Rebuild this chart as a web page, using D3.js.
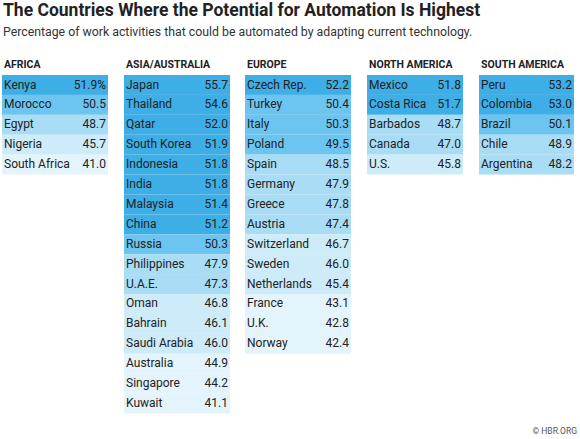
<!DOCTYPE html>
<html><head><meta charset="utf-8">
<script src="https://cdn.jsdelivr.net/npm/d3@7"></script>
<style>body{margin:0;background:#fff;font-family:Roboto,sans-serif}</style>
</head><body><svg id="c" width="580" height="439"></svg>
<script>
var regions = ['AFRICA', 'ASIA/AUSTRALIA', 'EUROPE', 'NORTH AMERICA', 'SOUTH AMERICA']
var africa = [['Kenya', 51.9], ['Morocco', 50.5], ['Egypt', 48.7], ['Nigeria', 45.7], ['South Africa', 41.0]]
var asia = [['Japan', 55.7], ['Thailand', 54.6], ['Qatar', 52.0], ['South Korea', 51.9], ['Indonesia', 51.8],
  ['India', 51.8], ['Malaysia', 51.4], ['China', 51.2], ['Russia', 50.3], ['Philippines', 47.9],
  ['U.A.E.', 47.3], ['Oman', 46.8], ['Bahrain', 46.1], ['Saudi Arabia', 46.0], ['Australia', 44.9],
  ['Singapore', 44.2], ['Kuwait', 41.1]]
var europe = [['Czech Rep.', 52.2], ['Turkey', 50.4], ['Italy', 50.3], ['Poland', 49.5], ['Spain', 48.5],
  ['Germany', 47.9], ['Greece', 47.8], ['Austria', 47.4], ['Switzerland', 46.7], ['Sweden', 46.0],
  ['Netherlands', 45.4], ['France', 43.1], ['U.K.', 42.8], ['Norway', 42.4]]
var northAmerica = [['Mexico', 51.8], ['Costa Rica', 51.7], ['Barbados', 48.7], ['Canada', 47.0], ['U.S.', 45.8]]
var southAmerica = [['Peru', 53.2], ['Colombia', 53.0], ['Brazil', 50.1], ['Chile', 48.9], ['Argentina', 48.2]]
var tables = [africa, asia, europe, northAmerica, southAmerica]

var svg = d3.select('#c')
var colX = [2, 124, 245, 367, 479], colW = [106, 106, 106, 96, 95]
var y = d3.scaleBand().domain(d3.range(17)).range([75, 75 + 17 * 19.85]).paddingInner(0.05)
var color = d3.scaleThreshold().domain([45, 47, 49.4, 51])
  .range(['#e4f4fc', '#cdebf9', '#a9dcf5', '#6cc5f0', '#3eaee6'])

svg.append('text').attr('x', 3).attr('y', 16).attr('font-size', 17.5).attr('font-weight', 'bold')
  .attr('fill', '#222').text('The Countries Where the Potential for Automation Is Highest')
svg.append('text').attr('x', 3).attr('y', 36).attr('font-size', 12.3).attr('fill', '#333')
  .text('Percentage of work activities that could be automated by adapting current technology.')

tables.forEach(function(rows, i) {
  var g = svg.append('g').attr('transform', 'translate(' + colX[i] + ',0)')
  g.append('text').attr('x', 2).attr('y', 68).attr('font-size', 10.5).attr('font-weight', 'bold')
    .attr('fill', '#222').text(regions[i])
  var r = g.selectAll('g.row').data(rows).enter().append('g')
    .attr('transform', function(d, j) { return 'translate(0,' + y(j) + ')' })
  r.append('rect').attr('width', colW[i]).attr('height', y.bandwidth() + 1)
    .attr('fill', function(d) { return color(d[1]) })
  r.append('text').attr('x', 2).attr('y', 13.5).attr('font-size', 12).attr('fill', '#222')
    .text(function(d) { return d[0] })
  r.append('text').attr('x', colW[i] - 2).attr('y', 13.5).attr('font-size', 12).attr('fill', '#222')
    .attr('text-anchor', 'end')
    .text(function(d, j) { return d[1].toFixed(1) + (i === 0 && j === 0 ? '%' : '') })
})
svg.append('text').attr('x', 577).attr('y', 434).attr('font-size', 8.5).attr('fill', '#555')
  .attr('text-anchor', 'end').text('© HBR.ORG')
</script></body></html>
